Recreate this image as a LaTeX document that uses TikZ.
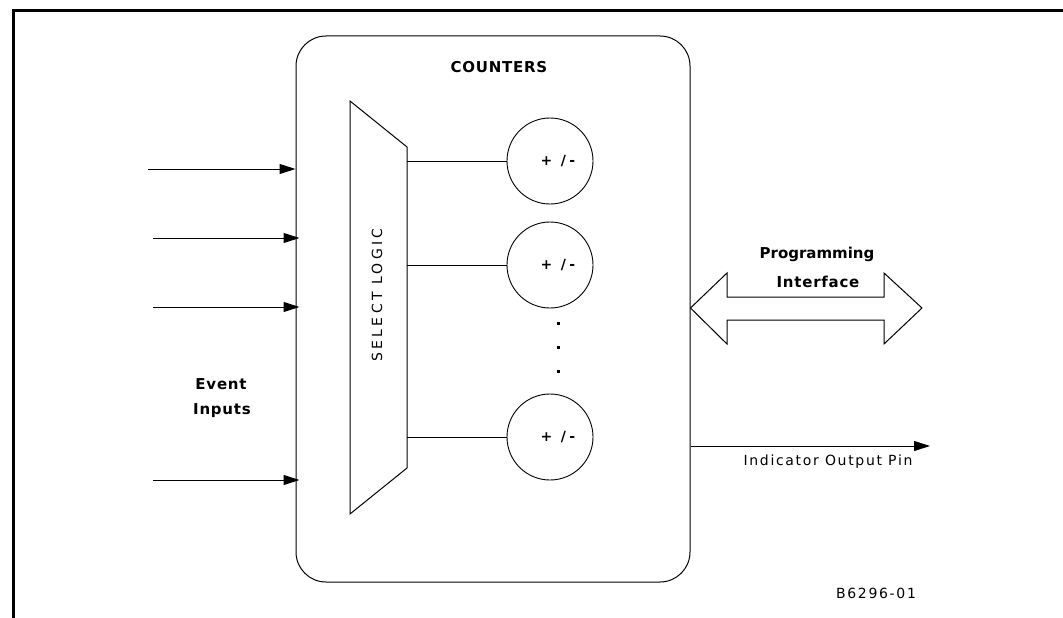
\documentclass[tikz,border=0pt]{standalone}
\usepackage{fontspec}
\setmainfont{DejaVu Sans}[LetterSpace=12]
\usetikzlibrary{arrows.meta,positioning,calc}
\tikzset{
  thinline/.style={draw=black,line width=1pt},
  ctrbox/.style={draw=black,line width=1pt,rounded corners=30pt,
                 minimum width=394pt,minimum height=546pt,inner sep=0pt},
  ctrcircle/.style={circle,draw=black,line width=0.9pt,minimum size=86pt,
                    inner sep=0pt},
  sumtext/.style={font=\fontsize{14}{16}\selectfont\bfseries\addfontfeature{LetterSpace=25},
                  inner sep=0pt},
  boldlabel/.style={font=\fontsize{15}{17}\selectfont\bfseries\addfontfeature{LetterSpace=5},
                    inner sep=0pt},
  plainlabel/.style={font=\fontsize{14}{16}\selectfont,inner sep=0pt},
  dotmark/.style={fill=black,minimum size=3pt,inner sep=0pt},
  arr/.style={-{Triangle[length=16pt,width=10pt]},line width=1pt},
}

\begin{document}
\begin{tikzpicture}[x=1pt,y=-1pt]
  \useasboundingbox (0,0) rectangle (1063,618);
  % frame
  \draw[line width=2.6pt] (13.5,618) -- (13.5,10.5) -- (1063,10.5);

  \node[ctrbox] (ctr) at (493,309) {};
  \node[boldlabel] (title) at (499,67) {COUNTERS};

  % select logic block
  \draw[thinline] (350,101) -- (407,147) -- (407,468) -- (350,514) -- cycle;
  \coordinate (muxr) at (407,309);
  \node[plainlabel,rotate=90] (sel) at (377,295)
    {\addfontfeature{LetterSpace=23}SELECT LOGIC};

  \node[ctrcircle] (c1) at (550,161) {};
  \node[ctrcircle] (c2) at (550,265) {};
  \node[ctrcircle] (c3) at (550,437) {};
  \foreach \c in {c1,c2,c3} {
    \node[sumtext] (s\c) at ([xshift=8pt]\c.center) {+ /-};
    \draw[thinline] (\c.west -| muxr) -- (\c.west);
  }

  \node[dotmark] (d1) at (558,323) {};
  \node[dotmark] (d2) at (558,347) {};
  \node[dotmark] (d3) at (558,371) {};

  % event inputs
  \coordinate (in1) at (148,169);
  \coordinate (in2) at (153,238);
  \coordinate (in3) at (153,307);
  \coordinate (in4) at (153,480);
  \draw[arr] (in1) -- (in1 -| ctr.west);
  \foreach \i in {in2,in3,in4}
    \draw[arr] (\i) -- ($(\i -| ctr.west)+(4,0)$);
  \node[boldlabel] (evt) at (221,384) {Event};
  \node[boldlabel] (inp) at (222,411) {Inputs};

  % programming interface
  \draw[thinline] (ctr.east |- 0,308) -- (727,273) -- (727,297) -- (884,297)
    -- (884,273) -- (922,308) -- (884,344) -- (884,320) -- (727,320)
    -- (727,344) -- cycle;
  \node[boldlabel] (prog) at (817,254) {\addfontfeature{LetterSpace=0}Programming};
  \node[boldlabel] (intf) at (818,282) {Interface};

  % indicator output
  \coordinate (outpin) at (930,446);
  \draw[arr] (outpin -| ctr.east) -- (outpin);
  \node[plainlabel] (pin) at (828,462) {Indicator Output Pin};

  \node[plainlabel] (fig) at (876,593) {B6296-01};
\end{tikzpicture}
\end{document}
